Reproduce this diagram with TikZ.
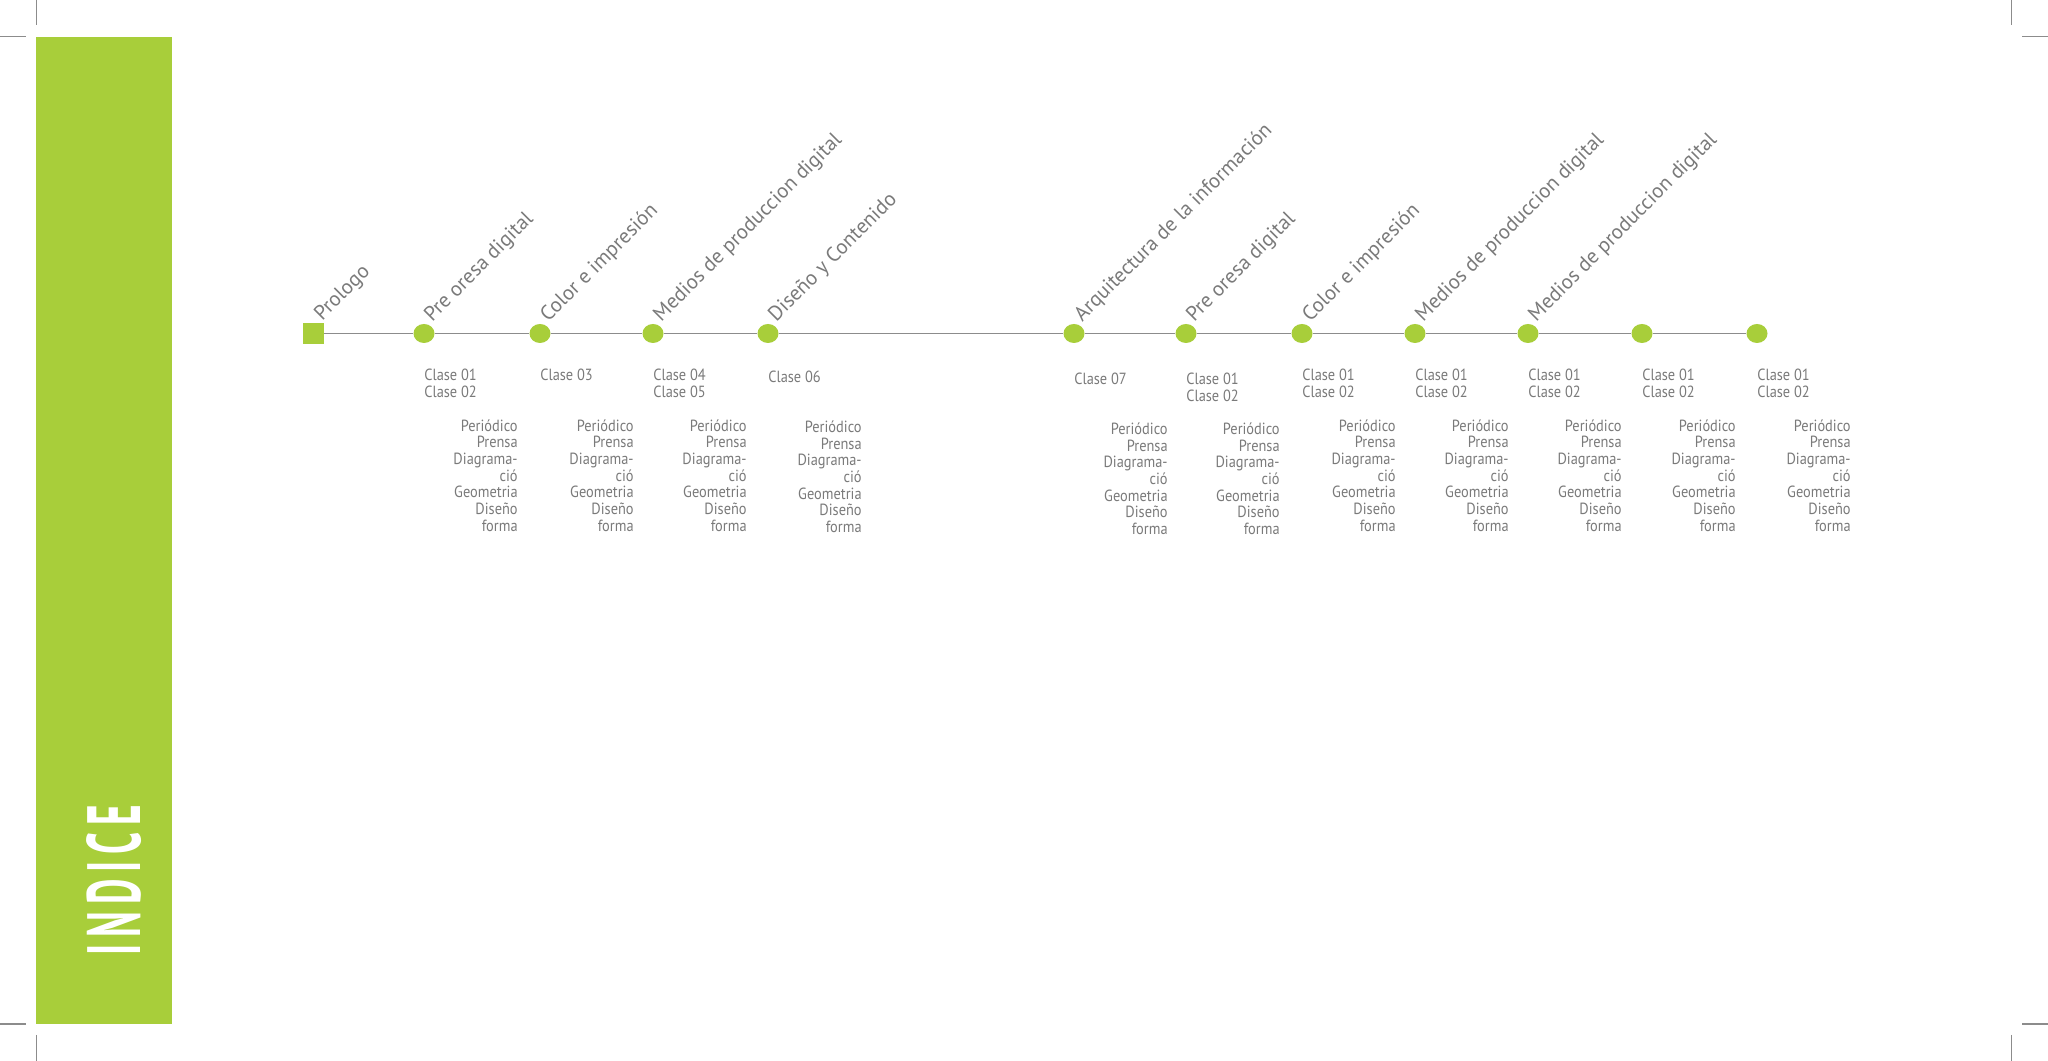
\documentclass[tikz,border=0pt]{standalone}
\usepackage{fontspec}
\setmainfont{PT Sans}
\newfontfamily\estrecha[FakeStretch=0.89]{PT Sans}
\newfontfamily\indicefont[FakeStretch=0.52,LetterSpace=9]{PT Sans}
\usetikzlibrary{calc,shapes.geometric}
\definecolor{verde}{RGB}{168,206,58}
\definecolor{gristexto}{RGB}{122,122,122}
\definecolor{grislinea}{RGB}{140,140,140}
\def\temas{Periódico\\Prensa\\Diagrama-\\ció\\Geometria\\Diseño\\forma}
\tikzset{
	hito/.style={ellipse, fill=verde, minimum width=0.42cm, minimum height=0.38cm, inner sep=0},
	tema/.style={rotate=45, anchor=base west, inner sep=0, text=gristexto, font=\fontsize{11.8}{13}\selectfont},
	clase/.style={anchor=base west, inner sep=0, align=left, text=gristexto, font=\estrecha\fontsize{9.2}{9.5}\selectfont},
	lista/.style={anchor=base east, inner sep=0, align=right, text=gristexto, font=\estrecha\fontsize{9.2}{9.5}\selectfont},
	marca/.style={line width=0.6pt, color=grislinea}
}

\begin{document}
\begin{tikzpicture}
			%%%%% START %%%%%
			
			\useasboundingbox[fill=white] (0, 0) rectangle (40.96, 21.22);
			
			% marcas de corte
			\draw[marca] (0.726, 21.22) -- (0.726, 20.71);
			\draw[marca] (0, 20.494) -- (0.51, 20.494);
			\draw[marca] (40.234, 21.22) -- (40.234, 20.71);
			\draw[marca] (40.44, 20.494) -- (40.96, 20.494);
			\draw[marca] (0, 0.74) -- (0.51, 0.74);
			\draw[marca] (0.726, 0.52) -- (0.726, 0);
			\draw[marca] (40.234, 0.52) -- (40.234, 0);
			\draw[marca] (40.44, 0.74) -- (40.96, 0.74);
			
			% banda lateral
			\fill[verde] (0.72, 0.74) rectangle (3.44, 20.48);
			\node[rotate=90, anchor=base, inner sep=0, text=white, font=\indicefont\bfseries\fontsize{43}{43}\selectfont] (indice) at (2.8, 3.62) {INDICE};
			
			% linea de tiempo
			\node[fill=verde, minimum size=0.42cm, inner sep=0] (prologo) at (6.27, 14.55) {};
			\node[hito] (c1) at (8.48, 14.55) {};
			\node[hito] (c2) at (10.80, 14.55) {};
			\node[hito] (c3) at (13.06, 14.55) {};
			\node[hito] (c4) at (15.36, 14.55) {};
			\node[hito] (c5) at (21.48, 14.55) {};
			\node[hito] (c6) at (23.72, 14.55) {};
			\node[hito] (c7) at (26.04, 14.55) {};
			\node[hito] (c8) at (28.30, 14.55) {};
			\node[hito] (c9) at (30.56, 14.55) {};
			\node[hito] (c10) at (32.84, 14.55) {};
			\node[hito] (c11) at (35.14, 14.55) {};
			
			\draw[line width=1.1pt, color=grislinea] (prologo) -- (c1) -- (c2) -- (c3) -- (c4) -- (c5) -- (c6) -- (c7) -- (c8) -- (c9) -- (c10) -- (c11);
			
			% titulos
			\node[tema] (t0) at ($(prologo)+(0.17, 0.24)$) {Prologo};
			\node[tema] (t1) at ($(c1)+(0.16, 0.22)$) {Pre oresa digital};
			\node[tema] (t2) at ($(c2)+(0.16, 0.22)$) {Color e impresión};
			\node[tema] (t3) at ($(c3)+(0.16, 0.22)$) {Medios de produccion digital};
			\node[tema] (t4) at ($(c4)+(0.16, 0.22)$) {Diseño y Contenido};
			\node[tema] (t5) at ($(c5)+(0.16, 0.22)$) {Arquitectura de la información};
			\node[tema] (t6) at ($(c6)+(0.16, 0.22)$) {Pre oresa digital};
			\node[tema] (t7) at ($(c7)+(0.16, 0.22)$) {Color e impresión};
			\node[tema] (t8) at ($(c8)+(0.16, 0.22)$) {Medios de produccion digital};
			\node[tema] (t9) at ($(c9)+(0.16, 0.22)$) {Medios de produccion digital};
			
			% clases (anclado en la ultima linea)
			\node[clase] (k1) at ($(c1)+(0, -1.284)$) {Clase 01\\Clase 02};
			\node[clase] (k2) at ($(c2)+(0, -0.95)$) {Clase 03};
			\node[clase] (k3) at ($(c3)+(0, -1.284)$) {Clase 04\\Clase 05};
			\node[clase] (k4) at ($(c4)+(0, -0.98)$) {Clase 06};
			\node[clase] (k5) at ($(c5)+(0, -1.02)$) {Clase 07};
			\node[clase] (k6) at ($(c6)+(0, -1.354)$) {Clase 01\\Clase 02};
			\node[clase] (k7) at ($(c7)+(0, -1.284)$) {Clase 01\\Clase 02};
			\node[clase] (k8) at ($(c8)+(0, -1.284)$) {Clase 01\\Clase 02};
			\node[clase] (k9) at ($(c9)+(0, -1.284)$) {Clase 01\\Clase 02};
			\node[clase] (k10) at ($(c10)+(0, -1.284)$) {Clase 01\\Clase 02};
			\node[clase] (k11) at ($(c11)+(0, -1.284)$) {Clase 01\\Clase 02};
			
			% contenidos (anclado en la ultima linea)
			\node[lista] (l1) at ($(c1)+(1.88, -3.954)$) {\temas};
			\node[lista] (l2) at ($(c2)+(1.88, -3.954)$) {\temas};
			\node[lista] (l3) at ($(c3)+(1.88, -3.954)$) {\temas};
			\node[lista] (l4) at ($(c4)+(1.88, -3.984)$) {\temas};
			\node[lista] (l5) at ($(c5)+(1.88, -4.024)$) {\temas};
			\node[lista] (l6) at ($(c6)+(1.88, -4.024)$) {\temas};
			\node[lista] (l7) at ($(c7)+(1.88, -3.954)$) {\temas};
			\node[lista] (l8) at ($(c8)+(1.88, -3.954)$) {\temas};
			\node[lista] (l9) at ($(c9)+(1.88, -3.954)$) {\temas};
			\node[lista] (l10) at ($(c10)+(1.88, -3.954)$) {\temas};
			\node[lista] (l11) at ($(c11)+(1.88, -3.954)$) {\temas};
			
			%%%%% END %%%%%
\end{tikzpicture}
\end{document}
